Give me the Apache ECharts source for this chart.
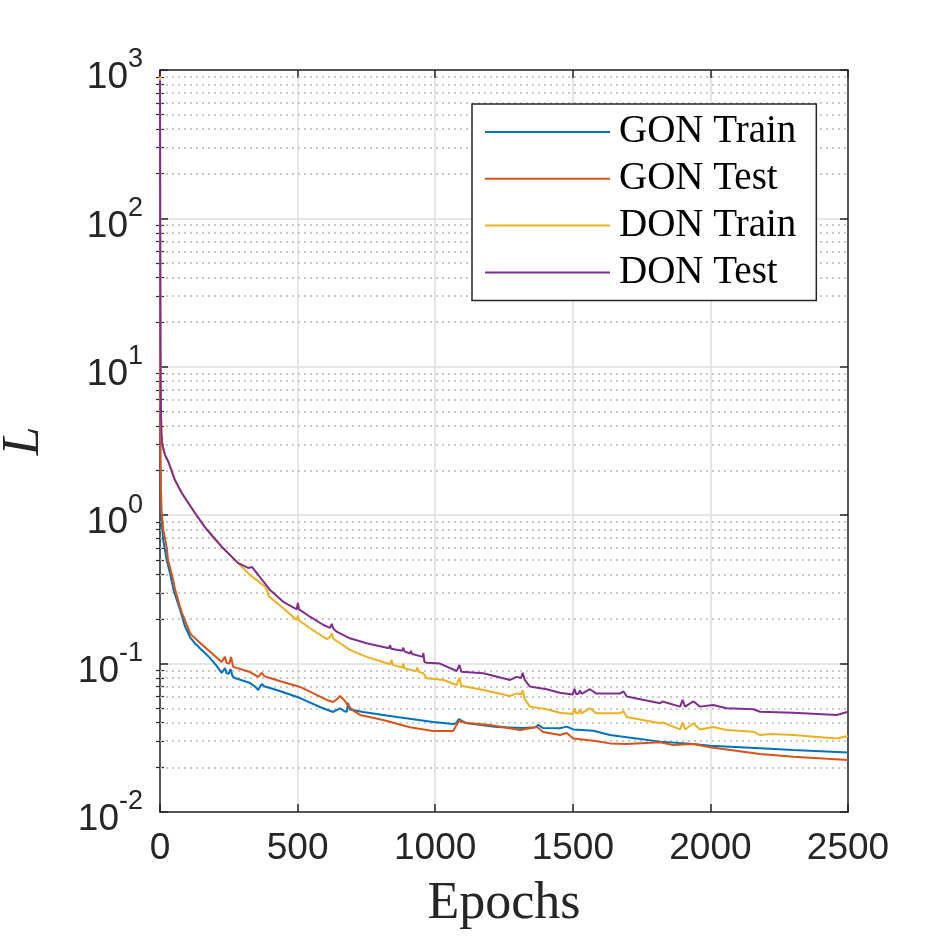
<!DOCTYPE html>
<html><head><meta charset="utf-8">
<script src="https://cdn.jsdelivr.net/npm/echarts@6/dist/echarts.min.js"></script>
<style>html,body{margin:0;padding:0;background:#fff}#c{width:938px;height:938px}</style>
</head><body><div id="c"></div>
<script>
const seriesNames = ['GON Train', 'GON Test', 'DON Train', 'DON Test'];
const seriesColors = ['#0072BD', '#D95319', '#EDB120', '#7E2F8E'];

const gonTrain = [[0,12],[1,2.5],[2,1.5],[4,1.05],[8,0.82],[12,0.68],[24,0.5],[36,0.408],[50,0.31],[73,0.23],[90,0.18],[109,0.151],[127,0.137],[145,0.127],[182,0.109],[205,0.097],[224,0.0865],[230,0.086],[236,0.0933],[242,0.086],[250,0.0855],[256,0.092],[264,0.082],[272,0.08],[300,0.077],[327,0.074],[345,0.07],[357,0.0664],[364,0.07],[370,0.0728],[380,0.07],[400,0.0685],[446,0.0644],[509,0.0586],[581,0.051],[629,0.0472],[654,0.05],[670,0.0478],[679,0.0474],[683,0.0543],[690,0.049],[738,0.0472],[811,0.0451],[861,0.0436],[992,0.0404],[1065,0.0392],[1075,0.0394],[1086,0.0423],[1110,0.0398],[1224,0.0374],[1319,0.0368],[1365,0.0372],[1374,0.0386],[1392,0.0368],[1453,0.0367],[1478,0.0376],[1502,0.036],[1575,0.0353],[1635,0.033],[1696,0.0319],[1817,0.0298],[1938,0.0287],[1999,0.028],[2180,0.0269],[2301,0.0262],[2500,0.0252]];

const gonTest = [[0,13],[1,4],[2,2.2],[4,1.4],[6,1.035],[12,0.8],[24,0.611],[29,0.5],[48,0.366],[54,0.32],[73,0.24],[80,0.219],[109,0.161],[116,0.155],[145,0.138],[182,0.12],[224,0.1025],[230,0.102],[236,0.111],[242,0.101],[252,0.1],[258,0.111],[266,0.095],[272,0.0933],[327,0.0877],[357,0.0813],[364,0.083],[370,0.0865],[380,0.082],[400,0.08],[446,0.0752],[509,0.0696],[606,0.0569],[629,0.0551],[645,0.058],[654,0.0605],[668,0.057],[683,0.0526],[698,0.0487],[727,0.0451],[811,0.0417],[908,0.0372],[992,0.0352],[1065,0.0352],[1086,0.041],[1115,0.0398],[1199,0.0386],[1308,0.0357],[1370,0.0374],[1392,0.0346],[1453,0.033],[1478,0.0341],[1502,0.0313],[1575,0.0302],[1635,0.029],[1696,0.0287],[1817,0.0295],[1865,0.0283],[1938,0.0287],[1999,0.0273],[2180,0.0246],[2301,0.0236],[2500,0.0224]];

const donTrain = [[0,900],[1,60],[2,12],[3,6],[5,3.6],[8,3.0],[18,2.55],[30,2.3],[54,1.73],[79,1.41],[127,1.035],[163,0.832],[193,0.72],[225,0.611],[254,0.54],[291,0.461],[327,0.395],[382,0.33],[390,0.31],[394,0.286],[448,0.236],[497,0.197],[501,0.21],[505,0.196],[545,0.173],[606,0.146],[618,0.151],[624,0.16],[630,0.147],[690,0.1236],[751,0.111],[836,0.0989],[841,0.106],[846,0.098],[880,0.094],[884,0.1],[888,0.093],[930,0.089],[935,0.094],[940,0.088],[957,0.086],[969,0.0796],[1030,0.0776],[1078,0.0718],[1088,0.08],[1095,0.071],[1175,0.0664],[1272,0.0605],[1296,0.063],[1312,0.062],[1318,0.066],[1325,0.058],[1344,0.0513],[1405,0.0492],[1453,0.0467],[1500,0.0457],[1506,0.05],[1512,0.0462],[1520,0.0462],[1526,0.049],[1532,0.0462],[1562,0.05],[1586,0.0462],[1671,0.0462],[1684,0.0478],[1696,0.0436],[1817,0.0396],[1826,0.0402],[1890,0.036],[1899,0.0404],[1908,0.036],[1938,0.0396],[1962,0.036],[2010,0.0374],[2059,0.0357],[2156,0.0348],[2180,0.033],[2220,0.0336],[2301,0.033],[2459,0.0313],[2500,0.0325]];

const donTest = [[0,850],[1,60],[2,12],[3,6],[5,3.6],[8,3.0],[18,2.55],[30,2.3],[54,1.73],[79,1.41],[127,1.035],[163,0.832],[193,0.713],[225,0.611],[254,0.54],[283,0.477],[320,0.441],[334,0.448],[392,0.328],[400,0.313],[448,0.261],[497,0.232],[501,0.256],[505,0.232],[545,0.207],[594,0.182],[618,0.174],[624,0.185],[630,0.172],[642,0.164],[690,0.148],[751,0.137],[832,0.127],[836,0.133],[840,0.126],[880,0.122],[884,0.128],[888,0.121],[908,0.117],[912,0.122],[916,0.116],[955,0.111],[957,0.118],[961,0.1025],[969,0.1014],[1017,0.1],[1078,0.0891],[1088,0.098],[1095,0.088],[1175,0.086],[1272,0.0776],[1296,0.0814],[1312,0.08],[1318,0.0868],[1325,0.078],[1344,0.07],[1405,0.0672],[1453,0.0637],[1500,0.062],[1506,0.0677],[1512,0.0625],[1520,0.0625],[1526,0.066],[1532,0.0625],[1562,0.0672],[1586,0.0628],[1671,0.0628],[1684,0.065],[1696,0.06],[1817,0.054],[1826,0.0555],[1890,0.0513],[1899,0.057],[1908,0.0513],[1938,0.0557],[1962,0.0513],[2010,0.0526],[2059,0.05],[2156,0.0492],[2180,0.0474],[2301,0.0467],[2459,0.0451],[2500,0.0474]];

const xMin = 0, xMax = 2500, xInterval = 500;
const yMin = 0.01, yMax = 1000;
const minorDecades = [-2, -1, 0, 1, 2];
const minorMultipliers = [2, 3, 4, 5, 6, 7, 8, 9];

const minorValues = [];
minorDecades.forEach(d => minorMultipliers.forEach(m => minorValues.push(m * Math.pow(10, d))));

const axisColor = '#262626';
const tickFont = 'Liberation Sans, Arial, sans-serif';
const serifFont = 'Liberation Serif, Times New Roman, serif';

const chart = echarts.init(document.getElementById('c'));
const lineData = [gonTrain, gonTest, donTrain, donTest];

const series = lineData.map((d, i) => ({
  name: seriesNames[i], type: 'line', data: d, showSymbol: false, symbol: 'none',
  xAxisIndex: 0, yAxisIndex: 0, z: 3,
  lineStyle: { color: seriesColors[i], width: 2 }, itemStyle: { color: seriesColors[i] }
}));
series.push({
  type: 'line', data: [], xAxisIndex: 0, yAxisIndex: 0, silent: true,
  markLine: {
    silent: true, symbol: ['none', 'none'], z: 1, animation: false,
    label: { show: false },
    lineStyle: { type: [2, 4], color: '#b8b8b8', width: 1.5 },
    data: minorValues.map(v => ({ yAxis: v }))
  }
});

const baseX = {
  type: 'value', min: xMin, max: xMax, interval: xInterval,
  axisLine: { show: true, onZero: false, lineStyle: { color: axisColor, width: 1.5 } },
  axisTick: { show: true, inside: true, length: 8, lineStyle: { color: axisColor, width: 1.5 } }
};
const baseY = {
  type: 'log', logBase: 10, min: yMin, max: yMax,
  axisLine: { show: true, onZero: false, lineStyle: { color: axisColor, width: 1.5 } },
  axisTick: { show: true, inside: true, length: 8, lineStyle: { color: axisColor, width: 1.5 } }
};

chart.setOption({
  animation: false,
  backgroundColor: '#fff',
  grid: { left: 160, right: 90, top: 70, bottom: 126, containLabel: false, outerBoundsMode: 'none' },
  legend: {
    data: seriesNames, orient: 'vertical', left: 472, top: 104, icon: 'rect',
    padding: [8, 20, 8, 13], itemWidth: 125, itemHeight: 2, itemGap: 6.8,
    backgroundColor: '#fff', borderColor: axisColor, borderWidth: 1.5, borderRadius: 0,
    textStyle: { fontFamily: serifFont, fontSize: 39, color: '#000', lineHeight: 40, padding: [0, 0, 0, 4] }
  },
  xAxis: [
    Object.assign({}, baseX, {
      position: 'bottom',
      axisLabel: { fontFamily: tickFont, fontSize: 37, color: axisColor, margin: 18, formatter: v => String(v) },
      splitLine: { show: true, lineStyle: { color: '#dedede', width: 1.5 } },
      name: 'Epochs', nameLocation: 'middle', nameGap: 66,
      nameTextStyle: { fontFamily: serifFont, fontSize: 52, color: axisColor }
    }),
    Object.assign({}, baseX, { position: 'top', axisLabel: { show: false }, splitLine: { show: false } })
  ],
  yAxis: [
    Object.assign({}, baseY, {
      position: 'left',
      axisLabel: {
        margin: 17,
        formatter: v => '{b|10}{s|' + Math.round(Math.log10(v)) + '}',
        rich: {
          b: { fontFamily: tickFont, fontSize: 37, color: axisColor, padding: [16, 0, 0, 0] },
          s: { fontFamily: tickFont, fontSize: 27, color: axisColor, padding: [0, 0, 20, 0] }
        }
      },
      splitLine: { show: true, lineStyle: { color: '#dedede', width: 1.5 } },
      name: 'L', nameLocation: 'middle', nameGap: 110,
      nameTextStyle: { fontFamily: serifFont, fontStyle: 'italic', fontSize: 52, color: axisColor }
    }),
    Object.assign({}, baseY, { position: 'right', axisLabel: { show: false }, splitLine: { show: false } }),
    Object.assign({}, baseY, {
      position: 'left', axisLine: { show: false },
      axisTick: { show: true, inside: true, length: 4, customValues: minorValues, lineStyle: { color: axisColor, width: 1.2 } },
      axisLabel: { show: false }, splitLine: { show: false }
    }),
    Object.assign({}, baseY, {
      position: 'right', axisLine: { show: false },
      axisTick: { show: true, inside: true, length: 4, customValues: minorValues, lineStyle: { color: axisColor, width: 1.2 } },
      axisLabel: { show: false }, splitLine: { show: false }
    })
  ],
  series: series
});
</script>
</body></html>
